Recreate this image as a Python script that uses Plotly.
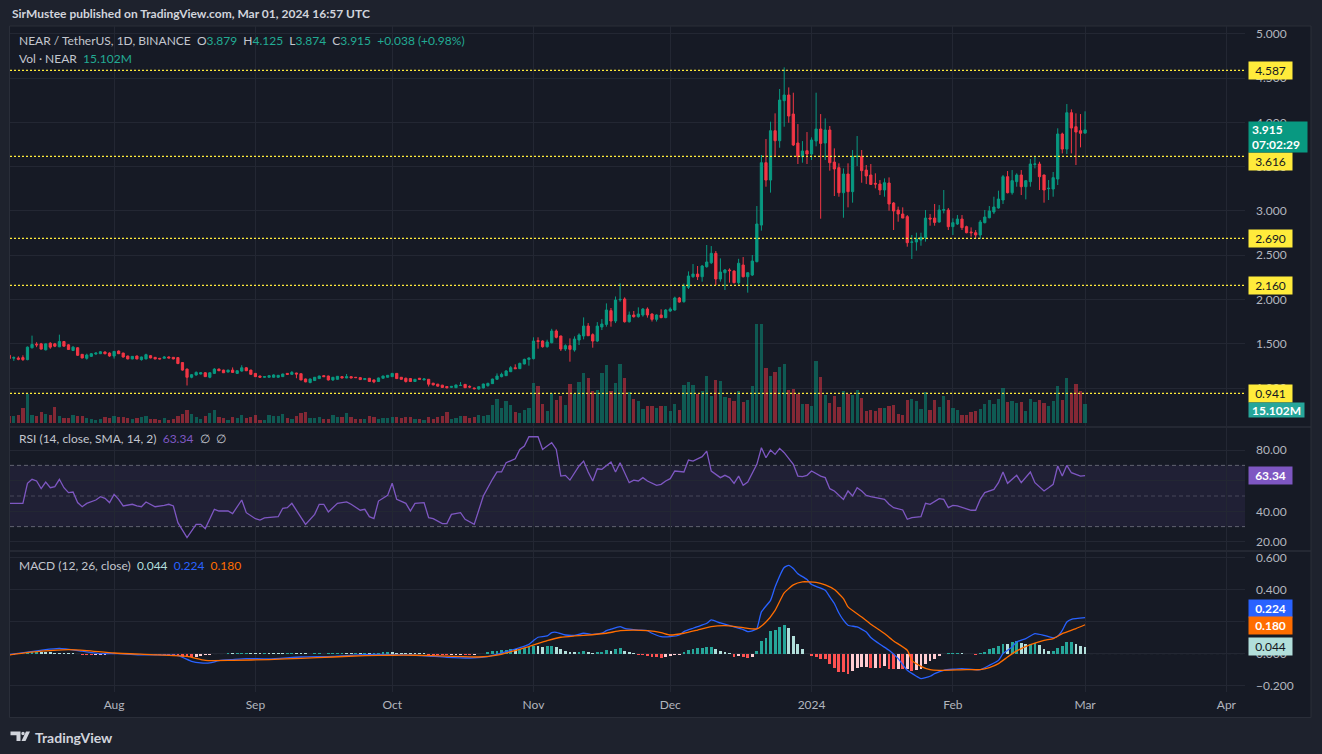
import plotly.graph_objects as go
import pandas as pd

# ---------------- data ----------------
FIRST_DAY = "2023-07-09"

opens = [1.371,1.339,1.341,1.345,1.322,1.456,1.497,1.500,1.433,1.507,1.500,1.467,1.526,1.489,1.426,1.456,1.382,1.337,1.359,1.385,
 1.389,1.408,1.396,1.363,1.419,1.396,1.363,1.330,1.363,1.322,1.330,1.367,1.348,1.337,1.337,1.352,1.348,1.345,1.289,1.215,
 1.123,1.149,1.160,1.174,1.123,1.167,1.215,1.204,1.182,1.204,1.167,1.193,1.230,1.204,1.167,1.137,1.123,1.123,1.123,1.123,
 1.130,1.167,1.156,1.171,1.163,1.104,1.063,1.086,1.108,1.141,1.137,1.093,1.100,1.130,1.115,1.130,1.123,1.119,1.097,1.112,
 1.093,1.075,1.112,1.123,1.130,1.167,1.123,1.112,1.108,1.075,1.112,1.093,1.100,1.056,1.045,1.034,1.019,
 1.009,1.005,1.030,1.043,1.020,1.002,0.990,1.002,1.028,1.051,1.100,1.130,1.141,1.186,1.231,1.220,1.273,1.325,1.333,1.536,
 1.532,1.468,1.513,1.645,1.589,1.442,1.480,1.431,1.544,1.589,1.701,1.604,1.532,1.690,1.720,1.875,1.758,1.998,2.006,1.750,
 1.826,1.807,1.826,1.893,1.837,1.777,1.826,1.796,1.871,1.882,2.018,1.976,2.138,2.258,2.288,2.258,2.371,2.416,2.522,2.232,
 2.303,2.334,2.322,2.191,2.390,2.258,
 2.277,2.428,2.841,3.545,3.349,3.906,3.793,4.245,4.309,4.094,3.767,3.613,3.680,3.643,3.790,3.925,3.767,3.914,3.552,3.489,
 3.206,3.417,3.218,3.613,3.617,3.462,3.406,3.312,3.304,3.237,3.316,3.090,3.011,2.966,2.936,2.646,2.650,2.672,2.699,2.920,
 2.920,2.875,3.008,3.011,2.823,2.853,2.909,2.823,2.763,2.755,2.729,2.868,2.924,2.988,3.034,3.124,3.387,3.206,3.331,3.406,
 3.274,3.331,3.526,3.530,3.406,3.252,3.248,3.361,3.869,3.699,4.109,3.951,3.906,3.879]
highs = [1.389,1.359,1.359,1.371,1.470,1.593,1.519,1.511,1.504,1.519,1.511,1.604,1.530,1.496,1.474,1.463,1.385,1.389,1.396,1.404,
 1.419,1.415,1.404,1.419,1.426,1.400,1.367,1.363,1.367,1.356,1.389,1.374,1.352,1.341,1.363,1.359,1.352,1.352,1.293,1.222,
 1.160,1.189,1.182,1.182,1.178,1.226,1.222,1.208,1.208,1.234,1.200,1.259,1.237,1.208,1.171,1.141,1.134,1.145,1.156,1.149,
 1.163,1.171,1.193,1.174,1.167,1.108,1.108,1.126,1.141,1.145,1.141,1.126,1.137,1.134,1.160,1.134,1.126,1.123,1.112,1.115,
 1.097,1.119,1.141,1.149,1.171,1.171,1.126,1.119,1.115,1.104,1.115,1.112,1.104,1.060,1.049,1.038,1.023,
 1.024,1.040,1.069,1.047,1.032,1.005,1.020,1.051,1.062,1.107,1.167,1.175,1.205,1.250,1.269,1.288,1.333,1.348,1.574,1.574,
 1.540,1.547,1.670,1.663,1.593,1.495,1.562,1.585,1.619,1.799,1.735,1.619,1.746,1.780,1.957,1.905,2.035,2.183,2.025,1.865,
 1.871,1.912,1.905,1.912,1.845,1.833,1.890,1.893,1.912,2.033,2.030,2.180,2.318,2.401,2.379,2.390,2.616,2.604,2.548,2.465,
 2.345,2.352,2.330,2.460,2.480,2.310,
 2.503,3.056,3.632,3.812,4.008,4.102,4.377,4.621,4.395,4.335,3.981,3.789,3.891,3.831,4.335,4.094,4.045,3.959,3.707,3.538,
 3.481,3.538,3.688,3.846,3.688,3.519,3.530,3.425,3.349,3.368,3.379,3.101,3.049,3.041,2.954,2.729,2.755,2.755,3.011,2.966,
 3.079,3.067,3.237,3.034,2.917,2.954,2.954,2.834,2.815,2.785,2.898,3.011,3.056,3.161,3.229,3.406,3.451,3.462,3.425,3.462,
 3.349,3.587,3.613,3.556,3.410,3.349,3.440,3.933,3.884,4.207,4.147,4.102,4.094,4.125]
lows = [1.315,1.308,1.315,1.308,1.315,1.448,1.463,1.437,1.426,1.444,1.463,1.463,1.470,1.433,1.419,1.363,1.337,1.322,1.352,1.378,
 1.385,1.382,1.355,1.334,1.385,1.345,1.326,1.326,1.326,1.311,1.326,1.337,1.326,1.326,1.334,1.337,1.326,1.271,1.197,1.030,
 1.112,1.141,1.156,1.126,1.112,1.160,1.193,1.171,1.178,1.174,1.160,1.186,1.193,1.152,1.126,1.119,1.119,1.119,1.119,1.119,
 1.126,1.152,1.152,1.112,1.089,1.067,1.056,1.082,1.104,1.126,1.086,1.082,1.097,1.112,1.112,1.112,1.115,1.093,1.093,1.071,
 1.056,1.071,1.108,1.119,1.126,1.104,1.097,1.063,1.071,1.071,1.097,1.089,1.019,1.030,1.019,1.004,0.997,
 1.002,1.002,1.024,1.002,1.000,0.987,0.983,0.998,1.017,1.047,1.096,1.122,1.137,1.182,1.216,1.216,1.269,1.254,1.325,1.446,
 1.457,1.457,1.506,1.562,1.420,1.420,1.299,1.412,1.487,1.551,1.589,1.457,1.520,1.656,1.694,1.694,1.735,1.976,1.740,1.740,
 1.796,1.796,1.807,1.796,1.752,1.752,1.790,1.790,1.860,1.875,1.965,1.965,2.119,2.247,2.221,2.202,2.360,2.401,2.164,2.202,
 2.108,2.191,2.183,2.170,2.250,2.078,
 2.266,2.420,2.778,3.274,3.207,3.613,3.714,3.951,3.996,3.733,3.530,3.545,3.530,3.575,3.730,2.913,3.575,3.455,3.169,3.161,
 2.924,3.041,3.094,3.507,3.319,3.304,3.293,3.255,3.180,3.161,3.003,2.785,2.879,2.920,2.597,2.458,2.552,2.608,2.654,2.834,
 2.834,2.868,2.973,2.785,2.729,2.842,2.785,2.748,2.710,2.684,2.684,2.860,2.917,2.966,3.026,3.079,3.199,3.184,3.274,3.180,
 3.131,3.274,3.481,3.237,3.094,3.124,3.161,3.293,3.650,3.643,3.650,3.519,3.718,3.874]
closes = [1.334,1.345,1.326,1.322,1.463,1.493,1.489,1.441,1.500,1.463,1.474,1.526,1.474,1.437,1.463,1.371,1.341,1.374,1.389,1.396,
 1.411,1.389,1.363,1.415,1.389,1.352,1.330,1.359,1.330,1.352,1.378,1.341,1.330,1.330,1.352,1.341,1.330,1.278,1.204,1.123,
 1.152,1.178,1.174,1.130,1.174,1.215,1.197,1.174,1.204,1.178,1.197,1.230,1.197,1.156,1.130,1.123,1.130,1.141,1.149,1.145,
 1.160,1.156,1.178,1.160,1.093,1.071,1.104,1.123,1.137,1.130,1.093,1.123,1.134,1.115,1.130,1.115,1.119,1.097,1.108,1.075,
 1.071,1.115,1.137,1.145,1.167,1.108,1.100,1.075,1.075,1.100,1.100,1.104,1.045,1.038,1.023,1.008,1.004,
 1.020,1.036,1.032,1.005,1.013,0.994,1.017,1.047,1.054,1.103,1.137,1.156,1.194,1.231,1.220,1.280,1.325,1.340,1.532,1.528,
 1.468,1.521,1.645,1.574,1.442,1.480,1.438,1.555,1.600,1.701,1.592,1.532,1.701,1.724,1.882,1.758,1.995,2.002,1.750,1.826,
 1.807,1.837,1.893,1.826,1.777,1.826,1.796,1.882,1.893,2.018,1.972,2.153,2.266,2.288,2.258,2.379,2.424,2.522,2.232,2.311,
 2.334,2.326,2.191,2.410,2.258,2.303,
 2.435,2.853,3.545,3.349,3.906,3.793,4.252,4.309,4.072,3.745,3.613,3.677,3.643,3.801,3.925,3.763,3.914,3.545,3.474,3.206,
 3.417,3.218,3.613,3.617,3.455,3.395,3.300,3.304,3.237,3.319,3.079,3.000,2.966,2.920,2.642,2.650,2.684,2.703,2.920,2.909,
 2.871,3.011,3.015,2.823,2.868,2.909,2.812,2.755,2.755,2.729,2.875,2.932,3.000,3.045,3.135,3.387,3.206,3.342,3.406,3.274,
 3.342,3.530,3.530,3.387,3.237,3.256,3.376,3.869,3.699,4.109,3.936,3.891,3.877,3.915]

# volume in millions of NEAR
volume_m = [5.6,5.6,6.4,11.9,23.1,6.4,5.6,8.7,7.2,6.4,12.7,5.6,4.0,4.0,6.4,5.6,5.6,4.0,3.2,2.4,
 3.2,4.8,4.0,5.6,4.8,4.8,4.0,3.2,4.0,4.8,5.6,3.2,3.2,2.4,4.0,2.4,3.2,5.6,7.2,10.3,
 7.2,4.8,3.2,5.6,8.0,10.3,4.8,4.0,2.4,4.8,4.0,6.4,4.0,4.8,6.4,2.4,2.4,6.4,5.6,5.6,
 7.2,4.0,3.2,5.6,8.0,8.7,4.0,4.0,4.8,3.2,3.2,6.4,4.8,4.8,8.0,4.8,3.2,3.2,3.2,5.6,
 4.8,3.2,4.0,4.0,4.8,4.8,4.0,4.8,4.8,3.2,3.2,2.4,4.8,3.2,4.8,5.6,8.7,
 3.2,4.0,5.6,5.6,4.0,4.8,6.4,5.6,6.4,14.3,19.1,11.9,17.5,14.3,8.7,8.0,10.3,11.9,31.8,29.4,
 15.1,9.5,23.9,18.3,21.5,14.3,31.0,23.1,32.6,39.8,35.8,25.4,26.2,39.8,46.1,25.4,31.8,46.9,35.8,24.6,
 19.1,17.5,11.1,13.5,13.5,11.9,13.5,13.5,9.5,15.1,10.3,30.2,32.6,30.2,23.1,25.4,37.4,21.5,34.2,33.4,
 20.7,19.9,17.5,25.4,16.7,18.3,29.4,78.7,78.7,43.7,37.4,40.5,44.5,46.9,26.2,27.0,23.1,15.1,15.1,13.5,
 49.3,36.6,22.3,15.9,21.5,12.7,25.4,23.1,22.3,26.2,19.9,9.5,10.3,9.5,11.9,11.9,13.5,14.3,7.2,6.4,
 18.3,19.1,17.5,11.1,24.6,10.3,18.3,12.7,21.5,18.3,11.9,10.3,6.4,6.4,8.7,9.5,11.1,15.1,18.3,15.1,
 19.1,27.8,16.7,17.5,15.9,16.7,9.5,19.1,16.7,18.3,15.9,13.5,17.5,29.4,18.3,35.8,23.9,31.0,25.4,15.102]

# RSI(14) vertices: bar number (0 = first bar) and value
rsi_idx = [0,3,4,5,6,7,8,9,10,11,12,13,14,15,16,17,19,20,21,22,23,24,25,27,28,29,30,31,32,34,35,36,37,39,40,41,42,43,45,46,
 48,49,51,52,54,55,56,59,60,61,62,64,65,67,68,69,70,72,74,75,77,78,79,80,81,83,84,85,86,
 87,88,89,91,92,93,95,96,97,99,100,102,103,104,106,107,108,109,111,112,113,114,116,117,118,119,120,121,122,123,
 125,126,127,128,129,130,132,133,134,135,136,137,138,139,140,142,143,144,145,146,148,149,150,152,153,154,156,157,158,159,
 160,161,162,164,165,166,167,168,169,170,172,173,174,175,176,178,179,180,181,183,184,185,186,187,188,189,191,192,193,194,
 196,197,198,200,201,202,204,205,206,207,208,210,211,212,213,214,216,217,218,219,220,221,222,224,225,227,228,229,230,231,
 232,233,235,236]
rsi_val = [45.2,45.2,58.3,60.9,59.8,54.8,59.1,55.4,56.1,60.9,55.4,52.2,52.6,45.7,43.0,45.2,47.4,49.6,48.5,45.7,
 51.1,47.8,43.5,44.6,43.5,43.0,46.1,44.6,43.0,43.9,44.6,43.5,32.6,22.8,27.2,31.5,31.5,28.7,41.3,40.2,
 40.2,38.5,47.4,39.1,35.2,34.3,35.7,36.5,42.0,42.4,45.2,35.9,31.5,38.0,44.6,44.6,39.6,45.2,46.1,44.6,
 40.7,41.3,36.5,35.2,46.7,50.4,58.3,47.8,46.7,
 45.2,40.2,45.2,45.7,35.9,35.2,32.0,32.0,38.0,39.1,34.8,31.5,41.3,50.0,60.9,65.7,65.7,71.7,74.3,80.4,
 82.6,88.7,88.7,80.4,82.6,84.8,80.4,63.0,63.5,60.4,69.6,72.8,65.7,59.8,67.8,67.4,72.2,65.7,71.7,65.2,
 58.7,60.4,59.8,62.0,59.8,57.0,57.6,59.8,61.3,66.3,65.7,73.5,72.8,75.7,79.3,66.3,62.0,63.5,62.0,58.3,
 63.0,57.0,59.1,70.7,81.5,75.0,80.0,77.2,81.1,78.3,70.7,63.0,62.6,63.5,66.3,63.0,62.0,54.8,53.3,47.8,
 53.3,50.0,55.4,53.3,50.4,49.6,48.5,47.8,44.6,42.4,40.9,34.8,35.9,36.5,45.2,44.6,48.3,47.8,42.4,43.9,
 43.5,41.3,40.7,40.7,47.8,52.2,54.3,58.7,65.7,58.3,60.9,63.5,58.7,65.7,58.7,53.3,55.4,57.6,69.6,63.0,
 70.0,65.2,63.0,63.34]

# MACD line vertices
macd_idx = [0,11,16,20,24,29,37,40,42,44,46,49,52,57,64,71,78,84,89,92,96,102,105,107,109,112,114,115,116,118,
 119,120,122,124,126,128,130,131,132,134,135,138,140,141,143,145,147,148,150,151,153,154,156,159,161,162,163,164,165,167,
 168,170,171,172,173,175,176,179,180,181,182,183,184,186,188,189,191,193,195,197,199,200,202,203,205,209,213,215,217,218,
 220,221,223,225,227,229,230,231,232,233,236]
macd_val = [-0.006,0.033,0.015,0.0,0.0,-0.008,-0.012,-0.048,-0.058,-0.058,-0.044,-0.037,-0.031,-0.033,-0.021,-0.017,-0.006,-0.006,-0.010,-0.015,
 -0.023,-0.027,-0.019,-0.004,0.012,0.037,0.058,0.081,0.102,0.110,0.131,0.133,0.116,0.114,0.127,0.120,0.127,0.143,0.152,0.168,
 0.158,0.147,0.143,0.127,0.106,0.106,0.116,0.137,0.158,0.168,0.189,0.210,0.191,0.166,0.150,0.137,0.141,0.156,0.260,0.332,
 0.415,0.536,0.550,0.530,0.498,0.461,0.430,0.395,0.353,0.312,0.253,0.208,0.177,0.166,0.135,0.100,0.058,0.021,-0.031,-0.104,
 -0.141,-0.156,-0.141,-0.125,-0.104,-0.093,-0.100,-0.073,-0.042,0.0,0.042,0.073,0.093,0.125,0.114,0.098,0.108,0.145,0.197,0.214,
 0.224]

# signal line vertices
signal_idx = [0,7,13,17,23,31,39,43,49,57,64,71,78,84,89,96,103,107,110,114,118,121,124,126,131,134,137,140,143,145,
 148,151,154,157,161,164,166,168,170,172,174,177,179,181,183,184,187,189,192,194,197,198,200,202,204,210,213,215,217,219,
 221,224,227,229,231,234,236]
signal_val = [-0.008,0.015,0.025,0.019,0.004,-0.006,-0.017,-0.042,-0.042,-0.037,-0.029,-0.021,-0.012,-0.010,-0.010,-0.015,-0.021,-0.010,0.012,0.044,
 0.081,0.102,0.110,0.114,0.127,0.143,0.147,0.143,0.131,0.116,0.127,0.147,0.168,0.174,0.162,0.154,0.197,0.270,0.378,0.428,
 0.447,0.444,0.428,0.399,0.343,0.291,0.228,0.183,0.125,0.079,0.021,-0.042,-0.079,-0.100,-0.104,-0.100,-0.100,-0.087,-0.062,-0.021,
 0.017,0.056,0.083,0.093,0.125,0.156,0.180]

# MACD histogram, one value per bar
hist_val = [-0.006,-0.006,-0.005,-0.005,0.008,0.010,0.012,0.010,0.009,0.008,0.007,0.006,0.005,0.004,0.003,
 -0.004,-0.007,-0.009,-0.010,-0.009,-0.008,-0.006,-0.005,-0.004,-0.003,-0.003,-0.004,-0.004,-0.003,
 -0.004,-0.005,-0.006,-0.006,-0.007,-0.008,-0.010,-0.012,-0.015,-0.018,-0.020,-0.022,-0.018,-0.014,-0.010,-0.006,-0.004,
 -0.002,-0.001,0.001,0.001,0.002,0.004,0.005,0.005,0.004,0.004,0.005,0.004,0.003,0.002,0.002,0.004,0.005,0.004,0.003,
 0.002,-0.001,0.001,0.002,-0.001,0.002,0.003,0.004,0.005,0.004,0.004,0.005,0.005,0.006,0.005,0.006,0.007,
 0.008,0.009,0.009,0.007,0.006,0.004,0.004,0.003,0.003,0.002,-0.008,-0.009,-0.010,-0.010,-0.010,-0.008,-0.007,-0.006,
 -0.008,-0.009,-0.007,-0.004,-0.001,0.008,0.014,0.017,0.023,0.024,0.029,0.027,0.031,0.035,0.044,0.046,0.045,0.040,
 0.048,0.049,0.039,0.029,0.019,0.012,0.010,0.012,0.019,0.010,0.004,0.010,0.011,0.023,0.017,0.029,0.035,0.017,0.010,0.002,
 -0.008,-0.010,-0.015,-0.021,-0.022,-0.025,-0.021,-0.013,-0.010,-0.008,0.008,0.023,0.029,0.035,0.036,0.040,0.041,
 0.027,0.015,0.008,0.002,-0.021,-0.017,-0.021,-0.025,-0.021,0.015,0.077,0.096,0.139,0.145,0.168,0.177,0.158,0.108,0.062,0.027,
 0.0,-0.015,-0.021,-0.035,-0.036,-0.066,-0.087,-0.114,-0.115,-0.129,-0.108,-0.087,-0.086,-0.085,-0.088,-0.087,-0.089,-0.079,
 -0.093,-0.096,-0.094,-0.097,-0.094,-0.108,-0.100,-0.095,-0.066,-0.046,-0.033,-0.017,-0.002,0.002,0.003,0.004,0.003,-0.001,-0.002,
 -0.006,0.006,0.010,0.027,0.037,0.046,0.062,0.060,0.071,0.079,0.064,0.058,0.062,0.064,0.052,0.031,0.015,0.016,0.037,0.046,
 0.071,0.072,0.062,0.050,0.044]

level_prices = [4.587, 3.616, 2.690, 2.160, 0.941]
level_label_y = [4.587, 3.564, 2.690, 2.160, 0.941]
month_ticks = ["2023-08-01","2023-09-01","2023-10-01","2023-11-01","2023-12-01","2024-01-01","2024-02-01","2024-03-01","2024-04-01"]
month_text = ["Aug","Sep","Oct","Nov","Dec","2024","Feb","Mar","Apr"]
price_ticks = [1.0,1.5,2.0,2.5,3.0,3.5,4.0,4.5,5.0]
price_text = ["1.000","1.500","2.000","2.500","3.000","3.500","4.000","4.500","5.000"]
rsi_ticks = [20,40,60,80]
rsi_text = ["20.00","40.00","","80.00"]          # 60.00 is hidden behind the RSI value tag
macd_ticks = [-0.2,0.0,0.2,0.4,0.6]
macd_text = ["\u22120.200","0.000","","0.400","0.600"]  # 0.200 is hidden behind the value tags

# ---------------- styling ----------------
FONT = "Lato"
BG = "#161a25"
FRAME = "#1e222d"
BORDER = "#2a2e39"
GRID = "#232733"
TXT = "#b2b5be"
UP = "#089981"
DOWN = "#f23645"
DAY_MS = 86400000

W, H = 1322, 754
L, R, T, B = 10, 77, 26, 62
PW, PH = W - L - R, H - T - B

def px(x):
    return (x - L) / PW

def py(y):
    return (H - B - y) / PH

n = min(len(opens), len(highs), len(lows), len(closes))
start = pd.Timestamp(FIRST_DAY)
dates = pd.date_range(start, periods=n, freq="D")
up = [closes[i] >= opens[i] for i in range(n)]

vol = volume_m[:n]
vol_colors = ["rgba(8,153,129,0.5)" if up[i] else "rgba(242,54,69,0.5)" for i in range(len(vol))]

hist = hist_val[:n]
hist_colors = []
prev = 0.0
for v in hist:
    if v >= 0:
        hist_colors.append("#26a69a" if v > prev else "#b2dfdb")
    else:
        hist_colors.append("#ffcdd2" if v > prev else "#ff5252")
    prev = v

rsi_x = [start + pd.Timedelta(days=i) for i in rsi_idx]
macd_x = [start + pd.Timedelta(days=i) for i in macd_idx]
signal_x = [start + pd.Timedelta(days=i) for i in signal_idx]

fig = go.Figure()

fig.add_trace(go.Bar(x=dates[:len(vol)], y=vol, marker=dict(color=vol_colors, line=dict(width=0)),
                     width=0.72 * DAY_MS, xaxis="x", yaxis="y", hoverinfo="skip"))
fig.add_trace(go.Candlestick(x=dates, open=opens[:n], high=highs[:n], low=lows[:n], close=closes[:n],
                             increasing=dict(line=dict(color=UP, width=1), fillcolor=UP),
                             decreasing=dict(line=dict(color=DOWN, width=1), fillcolor=DOWN),
                             whiskerwidth=0, xaxis="x", yaxis="y2", hoverinfo="skip"))
fig.add_trace(go.Scatter(x=rsi_x, y=rsi_val, mode="lines", line=dict(color="#7e57c2", width=1.3),
                         xaxis="x2", yaxis="y3", hoverinfo="skip"))
fig.add_trace(go.Bar(x=dates[:len(hist)], y=hist, marker=dict(color=hist_colors, line=dict(width=0)),
                     width=0.62 * DAY_MS, xaxis="x3", yaxis="y4", hoverinfo="skip"))
fig.add_trace(go.Scatter(x=macd_x, y=macd_val, mode="lines", line=dict(color="#2962ff", width=1.3, shape="spline", smoothing=0.5),
                         xaxis="x3", yaxis="y4", hoverinfo="skip"))
fig.add_trace(go.Scatter(x=signal_x, y=signal_val, mode="lines", line=dict(color="#ff6d00", width=1.3, shape="spline", smoothing=0.5),
                         xaxis="x3", yaxis="y4", hoverinfo="skip"))

xrange = ["2023-07-09 04:00", "2024-04-05 02:00"]
xcommon = dict(type="date", range=xrange, tickmode="array", tickvals=month_ticks, ticktext=month_text,
               showgrid=True, gridcolor=GRID, gridwidth=1, zeroline=False, showline=False,
               fixedrange=True, rangeslider=dict(visible=False))
ycommon = dict(side="right", showgrid=True, gridcolor=GRID, zeroline=False, showline=False,
               tickfont=dict(family=FONT, size=12, color=TXT), ticks="", ticklabelstandoff=10,
               tickmode="array")

price_dom = [py(426), 1.0]
rsi_dom = [py(550), py(428)]
macd_dom = [0.0, py(552)]

fig.update_layout(
    width=W, height=H, autosize=False,
    margin=dict(l=L, r=R, t=T, b=B),
    paper_bgcolor=FRAME, plot_bgcolor="rgba(0,0,0,0)",
    showlegend=False, bargap=0,
    font=dict(family=FONT, size=12, color=TXT),
    xaxis=dict(**xcommon, anchor="y", showticklabels=False),
    xaxis2=dict(**xcommon, anchor="y3", matches="x", showticklabels=False),
    xaxis3=dict(**xcommon, anchor="y4", matches="x", showticklabels=True,
                tickfont=dict(family=FONT, size=12, color=TXT), ticks="", ticklabelstandoff=4),
    yaxis=dict(domain=price_dom, range=[-2.4, 315.6], visible=False, anchor="x", fixedrange=True),
    yaxis2=dict(**ycommon, overlaying="y", anchor="x", range=[0.573, 5.088],
                tickvals=price_ticks, ticktext=price_text),
    yaxis3=dict(**ycommon, domain=rsi_dom, anchor="x2", range=[14.75, 94.4],
                tickvals=rsi_ticks, ticktext=rsi_text),
    yaxis4=dict(**ycommon, domain=macd_dom, anchor="x3", range=[-0.239, 0.633],
                tickvals=macd_ticks, ticktext=macd_text),
)

shapes = []
# chart background and frame
shapes.append(dict(type="rect", xref="paper", yref="paper", x0=px(9.5), x1=px(1311), y0=py(717.5), y1=py(26),
                   fillcolor=BG, line=dict(color=BORDER, width=1), layer="below"))
# RSI band and levels
shapes.append(dict(type="rect", xref="paper", yref="y3", x0=0, x1=1, y0=30, y1=70,
                   fillcolor="rgba(126,87,194,0.1)", line=dict(width=0), layer="below"))
for lv in (70, 50, 30):
    shapes.append(dict(type="line", xref="paper", yref="y3", x0=0, x1=1, y0=lv, y1=lv,
                       line=dict(color="rgba(120,123,134,0.75)" if lv != 50 else "rgba(120,123,134,0.45)",
                                 width=1, dash="4px,3px"), layer="below"))
# MACD zero line
shapes.append(dict(type="line", xref="paper", yref="y4", x0=0, x1=1, y0=0, y1=0,
                   line=dict(color="rgba(120,123,134,0.45)", width=1, dash="3px,3px"), layer="below"))
# pane separators
for ysep in (427, 551):
    shapes.append(dict(type="line", xref="paper", yref="paper", x0=px(10), x1=px(1311), y0=py(ysep), y1=py(ysep),
                       line=dict(color=BORDER, width=1.5)))
# horizontal levels
for lp in level_prices:
    shapes.append(dict(type="line", xref="paper", yref="y2", x0=0, x1=1, y0=lp, y1=lp,
                       line=dict(color="#ffeb3b", width=1.2, dash="2px,2px")))
# TradingView logo
def path_px(pts):
    return "M" + " L".join(f"{px(x):.5f},{py(y):.5f}" for x, y in pts) + " Z"

shapes.append(dict(type="path", xref="paper", yref="paper",
                   path=path_px([(10.5, 731.5), (20.5, 731.5), (20.5, 741), (16.5, 741), (16.5, 735.3), (10.5, 735.3)]),
                   fillcolor="#d1d4dc", line=dict(width=0)))
shapes.append(dict(type="circle", xref="paper", yref="paper", x0=px(21.3), x1=px(24.7), y0=py(735.2), y1=py(731.8),
                   fillcolor="#d1d4dc", line=dict(width=0)))
shapes.append(dict(type="path", xref="paper", yref="paper",
                   path=path_px([(21.5, 741), (26.0, 731.5), (30.0, 731.5), (25.5, 741)]),
                   fillcolor="#d1d4dc", line=dict(width=0)))
fig.update_layout(shapes=shapes)

ann = []
NB = "\u00a0"

def sp(t, c):
    return f"<span style='color:{c}'>{t}</span>"

TEAL = "#22ab94"
LBL = "#c3c6ce"
LSIZE = 12
ann.append(dict(xref="paper", yref="paper", x=px(10), y=py(14), xanchor="left", yanchor="middle", showarrow=False,
                text="<b>SirMustee published on TradingView.com, Mar 01, 2024 16:57 UTC</b>",
                font=dict(family=FONT, size=12, color="#d1d4dc")))
ann.append(dict(xref="paper", yref="paper", x=px(33), y=py(737), xanchor="left", yanchor="middle", showarrow=False,
                text="<b>TradingView</b>", font=dict(family=FONT, size=14, color="#d1d4dc")))
ann.append(dict(xref="paper", yref="paper", x=px(17), y=py(41), xanchor="left", yanchor="middle", showarrow=False,
                text=("NEAR / TetherUS, 1D, BINANCE" + NB * 2 + "O" + sp("3.879", TEAL) + NB * 2 + "H" + sp("4.125", TEAL)
                      + NB * 2 + "L" + sp("3.874", TEAL) + NB * 2 + "C" + sp("3.915", TEAL) + NB * 2 + sp("+0.038 (+0.98%)", TEAL)),
                font=dict(family=FONT, size=LSIZE, color=LBL)))
ann.append(dict(xref="paper", yref="paper", x=px(17), y=py(58), xanchor="left", yanchor="middle", showarrow=False,
                text="Vol · NEAR" + NB * 2 + sp("15.102M", TEAL), font=dict(family=FONT, size=LSIZE, color=LBL)))
ann.append(dict(xref="paper", yref="paper", x=px(17), y=py(438), xanchor="left", yanchor="middle", showarrow=False,
                text="RSI (14, close, SMA, 14, 2)" + NB * 2 + sp("63.34", "#7e57c2") + NB * 2 + "∅" + NB * 2 + "∅",
                font=dict(family=FONT, size=LSIZE, color=LBL)))
ann.append(dict(xref="paper", yref="paper", x=px(17), y=py(565), xanchor="left", yanchor="middle", showarrow=False,
                text="MACD (12, 26, close)" + NB * 2 + sp("0.044", "#b2dfdb") + NB * 2 + sp("0.224", "#2962ff")
                     + NB * 2 + sp("0.180", "#ff6d00"),
                font=dict(family=FONT, size=LSIZE, color=LBL)))

AX = px(1248)

def axis_box(yref, y, text, bg, fg, w=39, h=13, pad=2, align="center", bold=False):
    t = f"<b>{text}</b>" if bold else text
    return dict(xref="paper", yref=yref, x=AX, y=y, xanchor="left", yanchor="middle", showarrow=False,
                text=t, bgcolor=bg, width=w, height=h, borderpad=pad, align=align,
                font=dict(family=FONT, size=12, color=fg))

for lp, ly in zip(level_prices, level_label_y):
    ann.append(axis_box("y2", ly, f"{lp:.3f}", "#ffeb3b", "#131722"))
ann.append(axis_box("y2", 3.835, "3.915<br>07:02:29", UP, "#ffffff", w=52, h=24, pad=3, align="left", bold=True))
ann.append(axis_box("y2", 0.754, "15.102M", "#26a69a", "#ffffff", w=53, h=12, pad=1, bold=True))
ann.append(axis_box("y3", 63.34, "63.34", "#7e57c2", "#ffffff", bold=True))
ann.append(axis_box("y4", 0.281, "0.224", "#2962ff", "#ffffff", bold=True))
ann.append(axis_box("y4", 0.178, "0.180", "#ff6d00", "#ffffff", bold=True))
ann.append(axis_box("y4", 0.044, "0.044", "#b2dfdb", "#131722"))
fig.update_layout(annotations=ann)

fig.write_html("out.html", config={"displayModeBar": False, "staticPlot": True},
               post_script="document.body.style.margin='0';document.body.style.overflow='hidden';")
